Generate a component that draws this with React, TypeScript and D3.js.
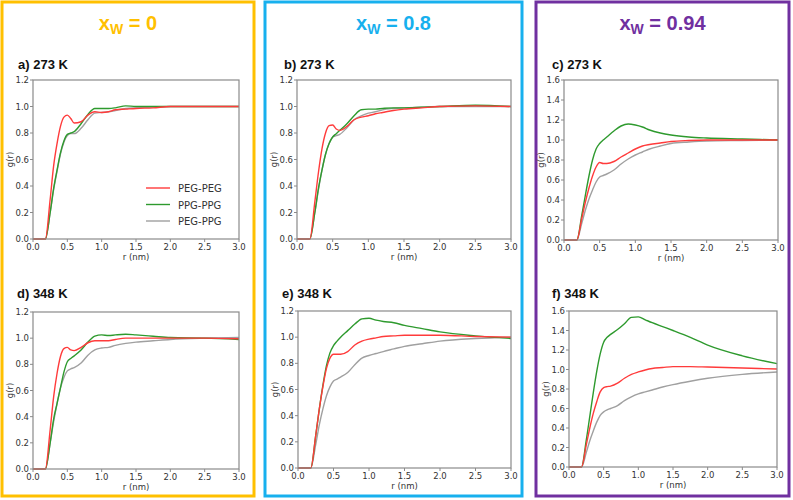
import React from "react";
import * as d3 from "d3";

// ---------- data ----------
const R = [0, 0.18, 0.25, 0.3, 0.35, 0.4, 0.45, 0.5, 0.55, 0.6, 0.7, 0.8, 0.9, 1.0, 1.1, 1.2, 1.35, 1.5, 1.75, 2.0, 2.5, 3.0];

const seriesNames = ["PEG-PEG", "PPG-PPG", "PEG-PPG"];
const xTicks = [0, 0.5, 1.0, 1.5, 2.0, 2.5, 3.0];
const yTicksLow = [0, 0.2, 0.4, 0.6, 0.8, 1.0, 1.2];
const yTicksHigh = [0, 0.2, 0.4, 0.6, 0.8, 1.0, 1.2, 1.4, 1.6];
const groupTitles = ["0", "0.8", "0.94"];

// a) xW=0, 273 K
const aPEG = [0, 0, 0.3, 0.55, 0.72, 0.85, 0.92, 0.935, 0.91, 0.875, 0.885, 0.935, 0.96, 0.955, 0.96, 0.975, 0.98, 0.985, 0.99, 1.0, 1.0, 1.0];
const aPPG = [0, 0, 0.2, 0.38, 0.52, 0.65, 0.74, 0.79, 0.8, 0.81, 0.87, 0.94, 0.985, 0.985, 0.985, 0.99, 1.005, 1.0, 1.0, 1.0, 1.0, 1.0];
const aMIX = [0, 0, 0.2, 0.37, 0.51, 0.64, 0.73, 0.78, 0.795, 0.795, 0.835, 0.9, 0.95, 0.955, 0.96, 0.97, 0.985, 0.99, 0.995, 1.0, 1.0, 1.0];
// d) xW=0, 348 K
const dPEG = [0, 0, 0.3, 0.55, 0.73, 0.86, 0.92, 0.93, 0.91, 0.905, 0.93, 0.965, 0.98, 0.98, 0.98, 0.99, 1.0, 1.0, 1.0, 1.0, 1.0, 0.995];
const dPPG = [0, 0, 0.2, 0.38, 0.5, 0.62, 0.74, 0.82, 0.845, 0.865, 0.91, 0.97, 1.015, 1.025, 1.02, 1.025, 1.03, 1.025, 1.015, 1.005, 1.0, 0.99];
const dMIX = [0, 0, 0.2, 0.36, 0.5, 0.62, 0.7, 0.75, 0.765, 0.775, 0.81, 0.87, 0.91, 0.925, 0.93, 0.945, 0.96, 0.97, 0.98, 0.99, 1.0, 1.005];
// b) xW=0.8, 273 K
const bPEG = [0, 0, 0.28, 0.5, 0.68, 0.8, 0.855, 0.86, 0.83, 0.82, 0.85, 0.9, 0.92, 0.93, 0.945, 0.955, 0.97, 0.98, 0.99, 1.0, 1.005, 1.0];
const bPPG = [0, 0, 0.2, 0.38, 0.52, 0.64, 0.72, 0.77, 0.795, 0.82, 0.87, 0.93, 0.975, 0.98, 0.98, 0.985, 0.99, 0.99, 0.995, 1.0, 1.01, 1.0];
const bMIX = [0, 0, 0.2, 0.37, 0.52, 0.64, 0.72, 0.77, 0.78, 0.79, 0.84, 0.9, 0.93, 0.95, 0.96, 0.975, 0.985, 0.99, 0.995, 1.0, 1.0, 1.0];
// e) xW=0.8, 348 K
const ePEG = [0, 0, 0.25, 0.45, 0.62, 0.76, 0.84, 0.87, 0.87, 0.87, 0.89, 0.94, 0.97, 0.985, 0.995, 1.005, 1.01, 1.015, 1.015, 1.015, 1.005, 1.0];
const ePPG = [0, 0, 0.25, 0.45, 0.63, 0.78, 0.88, 0.935, 0.97, 1.0, 1.05, 1.1, 1.14, 1.145, 1.13, 1.12, 1.11, 1.09, 1.065, 1.04, 1.01, 0.99];
const eMIX = [0, 0, 0.18, 0.33, 0.45, 0.55, 0.62, 0.665, 0.68, 0.695, 0.73, 0.79, 0.84, 0.86, 0.875, 0.89, 0.91, 0.93, 0.95, 0.97, 0.99, 1.0];
// c) xW=0.94, 273 K
const cPEG = [0, 0, 0.22, 0.38, 0.52, 0.64, 0.73, 0.775, 0.765, 0.765, 0.785, 0.83, 0.87, 0.91, 0.94, 0.955, 0.97, 0.985, 0.995, 1.0, 1.0, 1.0];
const cPPG = [0, 0, 0.25, 0.45, 0.64, 0.8, 0.91, 0.965, 1.0, 1.03, 1.09, 1.14, 1.16, 1.15, 1.13, 1.1, 1.07, 1.05, 1.03, 1.02, 1.01, 1.0];
const cMIX = [0, 0, 0.17, 0.3, 0.41, 0.5, 0.58, 0.63, 0.645, 0.66, 0.7, 0.76, 0.81, 0.85, 0.88, 0.91, 0.94, 0.965, 0.98, 0.99, 0.995, 1.0];
// f) xW=0.94, 348 K
const fPEG = [0, 0, 0.23, 0.4, 0.55, 0.67, 0.77, 0.815, 0.825, 0.83, 0.86, 0.91, 0.95, 0.975, 0.995, 1.01, 1.02, 1.03, 1.03, 1.025, 1.015, 1.005];
const fPPG = [0, 0, 0.28, 0.52, 0.76, 0.98, 1.16, 1.28, 1.33, 1.36, 1.41, 1.47, 1.535, 1.54, 1.51, 1.48, 1.44, 1.4, 1.33, 1.25, 1.14, 1.06];
const fMIX = [0, 0, 0.15, 0.27, 0.37, 0.46, 0.53, 0.565, 0.585, 0.6, 0.63, 0.68, 0.72, 0.75, 0.77, 0.79, 0.82, 0.845, 0.88, 0.91, 0.95, 0.975];

// ---------- layout / style ----------
const COLORS = ["#ff3b3b", "#2e9a2e", "#a0a0a0"];
const BOX_COLORS = ["#FFC000", "#17B0EE", "#7030A0"];
const BOXES = [
  { x: 2, y: 2, w: 252, h: 494 },
  { x: 265, y: 2, w: 257, h: 494 },
  { x: 536, y: 2, w: 253, h: 494 },
];

const panels = [
  { label: "a) 273 K", data: [aPEG, aPPG, aMIX], yTicks: yTicksLow, box: { l: 33, r: 239, t: 80, b: 239 }, lx: 18, ly: 69, legend: true },
  { label: "b) 273 K", data: [bPEG, bPPG, bMIX], yTicks: yTicksLow, box: { l: 297, r: 511, t: 80, b: 239 }, lx: 284, ly: 69, legend: false },
  { label: "c) 273 K", data: [cPEG, cPPG, cMIX], yTicks: yTicksHigh, box: { l: 564, r: 778, t: 80, b: 240 }, lx: 552, ly: 69, legend: false },
  { label: "d) 348 K", data: [dPEG, dPPG, dMIX], yTicks: yTicksLow, box: { l: 33, r: 239, t: 312, b: 469 }, lx: 17, ly: 298, legend: false },
  { label: "e) 348 K", data: [ePEG, ePPG, eMIX], yTicks: yTicksLow, box: { l: 298, r: 511, t: 311, b: 468 }, lx: 282, ly: 298, legend: false },
  { label: "f) 348 K", data: [fPEG, fPPG, fMIX], yTicks: yTicksHigh, box: { l: 569, r: 777, t: 311, b: 467 }, lx: 552, ly: 298, legend: false },
];

const FONT = "'Liberation Sans', Arial, sans-serif";
const TICK_FONT = "'DejaVu Sans', sans-serif";

function Panel({ p }: { p: (typeof panels)[number] }) {
  const { l, r, t, b } = p.box;
  const yMax = p.yTicks[p.yTicks.length - 1];
  const x = d3.scaleLinear().domain([0, 3]).range([l, r]);
  const y = d3.scaleLinear().domain([0, yMax]).range([b, t]);
  const line = d3
    .line<number>()
    .x((_, i) => x(R[i]))
    .y((v) => y(v))
    .curve(d3.curveMonotoneX);
  const frame = "#8a8a8a";
  return (
    <g>
      <text x={p.lx} y={p.ly} fontFamily={FONT} fontWeight="bold" fontSize={13} fill="#111">
        {p.label}
      </text>
      {/* series: draw gray first, then green, then red */}
      {[2, 1, 0].map((si) => (
        <path key={si} d={line(p.data[si]) || ""} fill="none" stroke={COLORS[si]} strokeWidth={1.4} />
      ))}
      <rect x={l} y={t} width={r - l} height={b - t} fill="none" stroke={frame} strokeWidth={1.2} />
      {xTicks.map((v) => (
        <g key={"x" + v}>
          <line x1={x(v)} x2={x(v)} y1={b} y2={b + 3} stroke={frame} />
          <text x={x(v)} y={b + 11} textAnchor="middle" fontFamily={TICK_FONT} fontSize={8.5} fill="#333">
            {v.toFixed(1)}
          </text>
        </g>
      ))}
      {p.yTicks.map((v) => (
        <g key={"y" + v}>
          <line x1={l - 3} x2={l} y1={y(v)} y2={y(v)} stroke={frame} />
          <text x={l - 4} y={y(v) + 3} textAnchor="end" fontFamily={TICK_FONT} fontSize={8.5} fill="#333">
            {v.toFixed(1)}
          </text>
        </g>
      ))}
      <text x={(l + r) / 2} y={b + 21} textAnchor="middle" fontFamily={TICK_FONT} fontSize={8.5} fill="#333">
        r (nm)
      </text>
      <text
        transform={`translate(${l - 20},${(t + b) / 2}) rotate(-90)`}
        textAnchor="middle"
        fontFamily={TICK_FONT}
        fontSize={8.5}
        fill="#333"
      >
        g(r)
      </text>
      {p.legend &&
        seriesNames.map((n, i) => (
          <g key={n}>
            <line x1={146} x2={170} y1={188 + i * 16.5} y2={188 + i * 16.5} stroke={COLORS[i]} strokeWidth={1.4} />
            <text x={178} y={192 + i * 16.5} fontFamily={TICK_FONT} fontSize={10} fill="#333">
              {n}
            </text>
          </g>
        ))}
    </g>
  );
}

export default function App() {
  return (
    <svg width={793} height={500} style={{ position: "absolute", left: 0, top: 0, background: "#fff" }}>
      <rect x={0} y={0} width={793} height={500} fill="#fff" />
      {BOXES.map((bx, i) => (
        <g key={i}>
          <rect x={bx.x} y={bx.y} width={bx.w} height={bx.h} fill="none" stroke={BOX_COLORS[i]} strokeWidth={3} />
          <text
            x={bx.x + bx.w / 2}
            y={30}
            textAnchor="middle"
            fontFamily={FONT}
            fontWeight="bold"
            fontSize={20}
            fill={BOX_COLORS[i]}
          >
            <tspan>x</tspan>
            <tspan fontSize={14} dy={4}>W</tspan>
            <tspan dy={-4}>{" = " + groupTitles[i]}</tspan>
          </text>
        </g>
      ))}
      {panels.map((p) => (
        <Panel key={p.label} p={p} />
      ))}
    </svg>
  );
}
